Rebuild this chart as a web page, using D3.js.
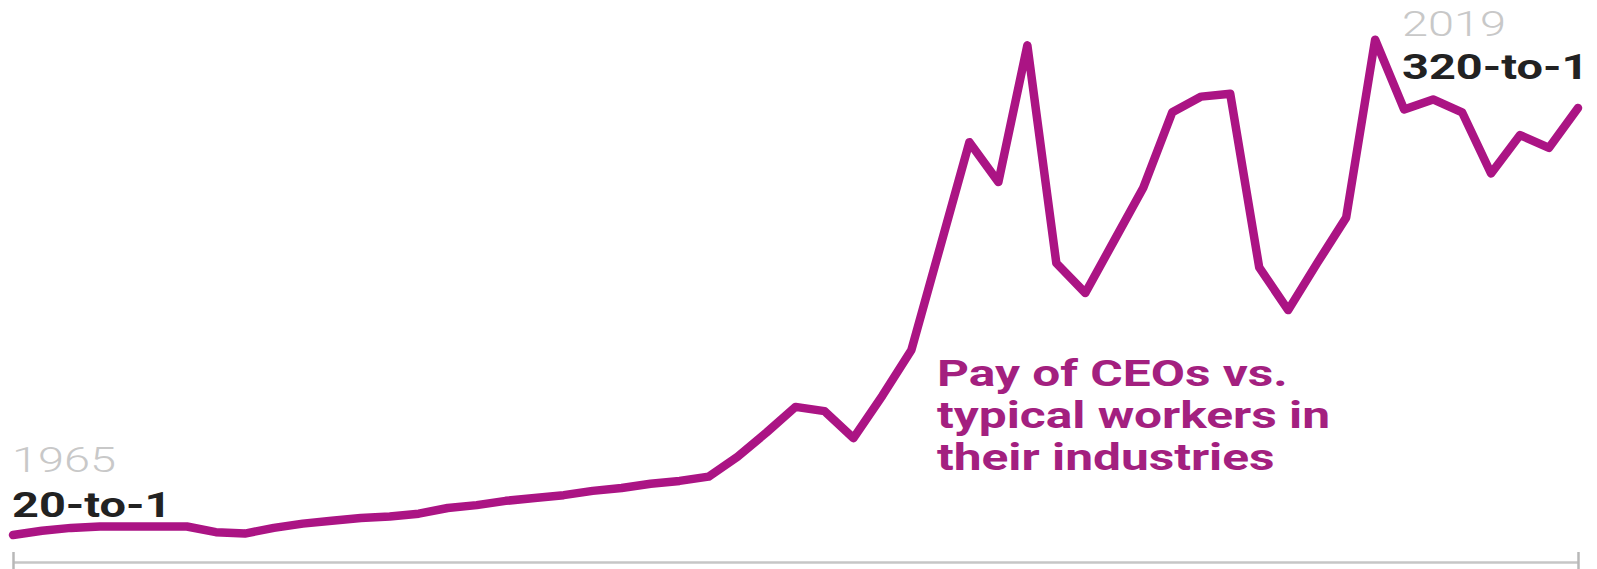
<!DOCTYPE html>
<html>
<head>
<meta charset="utf-8">
<script src="https://cdn.jsdelivr.net/npm/d3@7"></script>
<style>
  html, body { margin: 0; padding: 0; background: #fff; }
  svg { display: block; }
  text { font-family: Roboto, "Open Sans", sans-serif; }
</style>
</head>
<body>
<svg id="chart" width="1597" height="569"></svg>
<script>
// CEO-to-typical-worker compensation ratio, 1965–2019
const years = d3.range(1965, 2020);
const ratios = [
  20, 23, 25, 26, 26, 26, 26, 22, 21, 25,
  28, 30, 32, 33, 35, 39, 41, 44, 46, 48,
  51, 53, 56, 58, 61, 75, 92, 110, 107, 88,
  118, 150, 223, 296, 268, 364, 211, 190, 227, 264,
  317, 328, 330, 208, 178, 211, 243, 368, 319, 326,
  317, 274, 301, 292, 320
];
const series = years.map((yr, i) => ({ year: yr, value: ratios[i] }));

const startLabel = { year: 1965, value: 20, text: "20-to-1" };
const endLabel = { year: 2019, value: 320, text: "320-to-1" };
const seriesTitle = ["Pay of CEOs vs.", "typical workers in", "their industries"];

const svg = d3.select("#chart");
const lineColor = "#ab1484";
const textColor = "#a3207f";
const textStretch = 1.36;   // wide display face: horizontal stretch of the type

const x = d3.scaleLinear().domain([1965, 2019]).range([13, 1578]);
const y = d3.scaleLinear().domain([20, 320]).range([535, 108]);

// baseline axis with end ticks only
const axisY = 562;
const axis = d3.axisBottom(x)
  .tickValues([1965, 2019])
  .tickFormat("")
  .tickSize(8)
  .tickSizeOuter(0);
const gAxis = svg.append("g").attr("transform", `translate(0,${axisY})`).call(axis);
gAxis.select(".domain").attr("stroke", "#c6c6c6").attr("stroke-width", 2.5);
gAxis.selectAll(".tick line")
  .attr("stroke", "#b8b8b8").attr("stroke-width", 2.5)
  .attr("y1", -10).attr("y2", 9);

// ratio line
const line = d3.line().x(d => x(d.year)).y(d => y(d.value));
svg.append("path")
  .datum(series)
  .attr("fill", "none")
  .attr("stroke", lineColor)
  .attr("stroke-width", 8.5)
  .attr("stroke-linejoin", "round")
  .attr("stroke-linecap", "round")
  .attr("d", line);

// stretched text helper
function label(px, py, str, size, weight, fill) {
  svg.append("text")
    .attr("transform", `translate(${px},${py}) scale(${textStretch},1)`)
    .attr("font-size", size)
    .attr("font-weight", weight)
    .attr("fill", fill)
    .text(str);
}

// endpoint labels
label(x(startLabel.year) - 1, y(startLabel.value) - 63, startLabel.year, 34.5, 300, "#c8c8c8");
label(x(startLabel.year) - 1, y(startLabel.value) - 18, startLabel.text, 34.5, 700, "#222");
label(1402, y(endLabel.value) - 72, endLabel.year, 34.5, 300, "#c8c8c8");
label(1402, y(endLabel.value) - 29, endLabel.text, 34.5, 700, "#222");

// series title
seriesTitle.forEach((s, i) => label(937, 385.5 + i * 42, s, 36.5, 700, textColor));
</script>
</body>
</html>
